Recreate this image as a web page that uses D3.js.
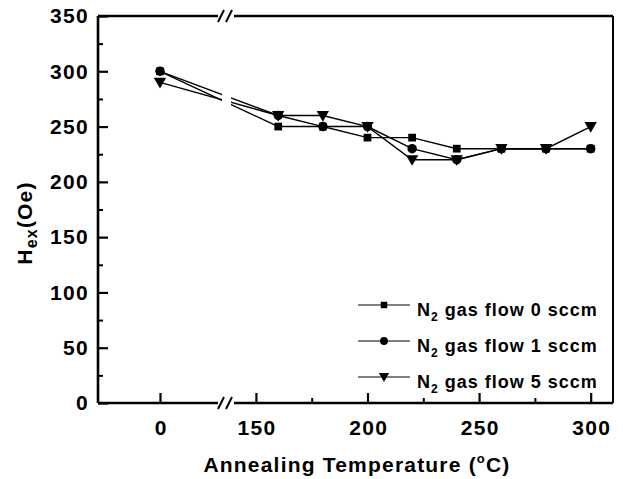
<!DOCTYPE html>
<html>
<head>
<meta charset="utf-8">
<script src="https://cdn.jsdelivr.net/npm/d3@7"></script>
<style>
  body { margin: 0; background: #fff; }
  text { font-family: "Liberation Sans", Arial, sans-serif; font-weight: bold; fill: #000; }
</style>
</head>
<body>
<div id="chart"></div>
<script>
// data
var temps = [0, 160, 180, 200, 220, 240, 260, 280, 300];
var flow0 = [300, 250, 250, 240, 240, 230, 230, 230, 230];
var flow1 = [300, 260, 250, 250, 230, 220, 230, 230, 230];
var flow5 = [290, 260, 260, 250, 220, 220, 230, 230, 250];
var seriesNames = ["0 sccm", "1 sccm", "5 sccm"];
var yTicks = [0, 50, 100, 150, 200, 250, 300, 350];
var xTicksLeft = [0];
var xTicksRight = [150, 200, 250, 300];

var width = 623, height = 479;
var margin = {top: 16, right: 10, bottom: 76, left: 98};
var plotW = width - margin.left - margin.right,
    plotH = height - margin.top - margin.bottom;
var breakX = 128;   // position of the axis break inside the plot

var svg = d3.select("#chart")
  .append("svg")
    .attr("width", width)
    .attr("height", height);

var g = svg.append("g")
    .attr("transform", "translate(" + margin.left + "," + margin.top + ")");

// broken x axis: two pieces of one polylinear scale
var x = d3.scaleLinear()
    .domain([-27.7, 29.5, 136.6, 310])
    .range([0, breakX, breakX, plotW]);

var y = d3.scaleLinear()
    .domain([0, 350])
    .range([plotH, 0]);

// lines + markers
var series = [
  {name: seriesNames[0], values: flow0, symbol: d3.symbolSquare, size: 60, rot: 0},
  {name: seriesNames[1], values: flow1, symbol: d3.symbolCircle, size: 70, rot: 0},
  {name: seriesNames[2], values: flow5, symbol: d3.symbolTriangle, size: 66, rot: 180}
];

var line = d3.line()
    .x(function(d) { return x(d[0]); })
    .y(function(d) { return y(d[1]); });

series.forEach(function(s) {
  var pts = temps.map(function(t, i) { return [t, s.values[i]]; });
  g.append("path")
    .datum(pts)
    .attr("fill", "none")
    .attr("stroke", "#000")
    .attr("stroke-width", 1.4)
    .attr("d", line);
});

// gap where the data lines cross the break
g.append("rect")
  .attr("x", breakX - 4)
  .attr("y", 2)
  .attr("width", 9)
  .attr("height", plotH - 4)
  .attr("fill", "#fff");

series.forEach(function(s) {
  g.selectAll(null)
    .data(temps.map(function(t, i) { return [t, s.values[i]]; }))
    .enter()
    .append("path")
      .attr("d", d3.symbol().type(s.symbol).size(s.size))
      .attr("transform", function(d) {
        return "translate(" + x(d[0]) + "," + (y(d[1]) + (s.rot ? -1 : 0)) + ") rotate(" + s.rot + ")";
      })
      .attr("fill", "#000");
});

// y axis, ticks inside
g.append("g")
  .call(d3.axisLeft(y).tickValues(yTicks).tickSize(-10).tickPadding(9))
  .call(function(a) { a.select(".domain").remove(); })
  .call(function(a) {
    a.selectAll("line").attr("stroke-width", 2.2);
    a.selectAll("text").style("font-size", "21px").style("letter-spacing", "1.3px");
  });
g.append("g")
  .call(d3.axisLeft(y).tickValues(d3.range(25, 350, 50)).tickSize(-5).tickFormat(""))
  .call(function(a) { a.select(".domain").remove(); a.selectAll("line").attr("stroke-width", 2); });

// x axis, ticks inside
var xAxisG = g.append("g").attr("transform", "translate(0," + plotH + ")");
xAxisG.append("g")
  .call(d3.axisBottom(x).tickValues(xTicksLeft.concat(xTicksRight)).tickSize(-10).tickPadding(17))
  .call(function(a) { a.select(".domain").remove(); })
  .call(function(a) {
    a.selectAll("line").attr("stroke-width", 2.2);
    a.selectAll("text").style("font-size", "21px").style("letter-spacing", "1.3px")
      .attr("dx", "0.65px");
  });
xAxisG.append("g")
  .call(d3.axisBottom(x).tickValues([175, 225, 275]).tickSize(-5).tickFormat(""))
  .call(function(a) { a.select(".domain").remove(); a.selectAll("line").attr("stroke-width", 2); });

// frame with break marks on top and bottom
var frame = g.append("g").attr("stroke", "#000").attr("stroke-width", 2.6).attr("fill", "none");
frame.append("line").attr("x1", 0).attr("x2", 0).attr("y1", 0).attr("y2", plotH);
frame.append("line").attr("x1", plotW).attr("x2", plotW).attr("y1", 0).attr("y2", plotH).attr("stroke-width", 2);
[0, plotH].forEach(function(yy) {
  frame.append("line").attr("x1", 0).attr("x2", breakX - 8).attr("y1", yy).attr("y2", yy);
  frame.append("line").attr("x1", breakX + 8).attr("x2", plotW).attr("y1", yy).attr("y2", yy);
  [-5, 3].forEach(function(dx) {
    frame.append("line")
      .attr("stroke-width", 2)
      .attr("x1", breakX + dx - 3).attr("y1", yy + 6)
      .attr("x2", breakX + dx + 3).attr("y2", yy - 6);
  });
});

// axis titles
var xt = svg.append("text")
  .attr("x", 357)
  .attr("y", 472)
  .attr("text-anchor", "middle")
  .style("font-size", "21px")
  .style("letter-spacing", "1.2px");
xt.append("tspan").text("Annealing Temperature (");
xt.append("tspan").attr("dy", -9).style("font-size", "13px").text("o");
xt.append("tspan").attr("dy", 9).text("C)");

var yt = svg.append("text")
  .attr("transform", "translate(32,223) rotate(-90)")
  .attr("text-anchor", "middle")
  .style("font-size", "21px")
  .style("letter-spacing", "1.2px");
yt.append("tspan").text("H");
yt.append("tspan").attr("dy", 5).style("font-size", "16px").text("ex");
yt.append("tspan").attr("dy", -5).text("(Oe)");

// legend
var legend = svg.append("g").attr("transform", "translate(358,305)");
series.forEach(function(s, i) {
  var row = legend.append("g").attr("transform", "translate(0," + (i * 36) + ")");
  row.append("line")
    .attr("x1", 0).attr("x2", 52)
    .attr("stroke", "#000").attr("stroke-width", 1.2);
  row.append("path")
    .attr("d", d3.symbol().type(s.symbol).size(s.size * 0.7))
    .attr("transform", "translate(26," + (s.rot ? -1 : 0) + ") rotate(" + s.rot + ")")
    .attr("fill", "#000");
  var t = row.append("text")
    .attr("x", 59)
    .attr("y", 11)
    .style("font-size", "18px")
    .style("letter-spacing", "1px");
  t.append("tspan").text("N");
  t.append("tspan").attr("dy", 5).style("font-size", "12px").text("2");
  t.append("tspan").attr("dy", -5).text(" gas flow " + s.name);
});
</script>
</body>
</html>
